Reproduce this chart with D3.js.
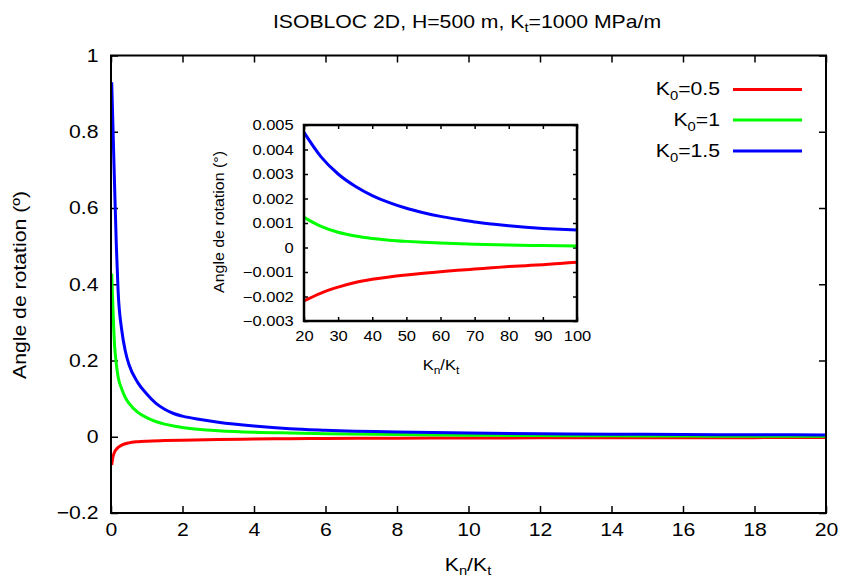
<!DOCTYPE html>
<html><head><meta charset="utf-8">
<script src="https://cdn.jsdelivr.net/npm/d3@7"></script>
<style>body{margin:0;background:#fff}svg{font-family:"Liberation Sans",Arial,sans-serif}</style>
</head><body><svg id="c" width="845" height="581"></svg>
<script>
// Main plot data (Kn/Kt, angle)
const seriesNames = ["K0=0.5","K0=1","K0=1.5"];
const seriesColors = ["#ff0000","#00ff00","#0000ff"];
const mainRed = [[0.02,-0.074],[0.05,-0.055],[0.1,-0.040],[0.15,-0.033],[0.2,-0.028],[0.3,-0.022],[0.5,-0.016],[0.75,-0.013],[1,-0.0115],[1.5,-0.0100],[2,-0.0089],[3,-0.0073],[4,-0.0060],[5,-0.0051],[6,-0.0045],[8,-0.0037],[10,-0.0032],[12,-0.0028],[14,-0.0026],[16,-0.0024],[18,-0.0023],[20,-0.0022]];
const mainGreen = [[0.02,0.428],[0.1,0.24],[0.15,0.19],[0.2,0.157],[0.3,0.125],[0.4,0.103],[0.5,0.088],[0.75,0.064],[1,0.05],[1.25,0.040],[1.5,0.033],[1.75,0.028],[2,0.024],[2.5,0.019],[3,0.016],[4,0.012],[5,0.0098],[6,0.0081],[8,0.0058],[10,0.0042],[12,0.0031],[14,0.0023],[16,0.0018],[18,0.0014],[20,0.0012]];
const mainBlue = [[0.02,0.93],[0.1,0.66],[0.15,0.50],[0.2,0.38],[0.3,0.28],[0.4,0.225],[0.5,0.19],[0.75,0.142],[1,0.112],[1.25,0.088],[1.5,0.072],[1.75,0.061],[2,0.054],[2.5,0.045],[3,0.038],[4,0.028],[5,0.021],[6,0.0172],[8,0.0125],[10,0.0098],[12,0.0080],[14,0.0067],[16,0.0058],[18,0.0052],[20,0.0047]];
// Inset data
const insetRed = [[20,-0.00218],[25,-0.00186],[30,-0.00162],[35,-0.00143],[40,-0.0013],[45,-0.0012],[50,-0.00112],[55,-0.00105],[60,-0.00099],[65,-0.00093],[70,-0.00088],[75,-0.00083],[80,-0.00078],[85,-0.00074],[90,-0.0007],[95,-0.00065],[100,-0.0006]];
const insetGreen = [[20,0.00123],[25,0.00086],[30,0.00062],[35,0.00047],[40,0.00037],[45,0.0003],[50,0.00025],[55,0.00021],[60,0.00018],[70,0.00013],[80,0.0001],[90,0.00008],[100,0.00006]];
const insetBlue = [[20,0.0047],[25,0.0037],[30,0.0030],[35,0.0025],[40,0.00212],[45,0.00183],[50,0.0016],[55,0.00142],[60,0.00127],[65,0.00115],[70,0.00104],[75,0.00096],[80,0.00089],[85,0.00083],[90,0.00078],[95,0.00074],[100,0.00071]];
const mainXTicks = [0,2,4,6,8,10,12,14,16,18,20];
const mainYTicks = [-0.2,0,0.2,0.4,0.6,0.8,1];
const insetXTicks = [20,30,40,50,60,70,80,90,100];
const insetYTicks = [-0.003,-0.002,-0.001,0,0.001,0.002,0.003,0.004,0.005];

const SX = 1.14; // horizontal glyph stretch of the reference
const svg = d3.select("#c");
const fmt = v => (v<0?"\u2212":"") + String(Math.abs(+v.toFixed(4)));

function panel(opt){
  const g = svg.append("g");
  const x = d3.scaleLinear().domain(opt.xd).range([opt.l,opt.r]);
  const y = d3.scaleLinear().domain(opt.yd).range([opt.b,opt.t]);
  const tl = opt.tick;
  const axB = d3.axisBottom(x).tickValues(opt.xt).tickSize(-tl).tickFormat(fmt).tickPadding(opt.padX);
  const axT = d3.axisTop(x).tickValues(opt.xt).tickSize(-tl).tickFormat("");
  const axL = d3.axisLeft(y).tickValues(opt.yt).tickSize(-tl).tickFormat(fmt).tickPadding(opt.padY);
  const axR = d3.axisRight(y).tickValues(opt.yt).tickSize(-tl).tickFormat("");
  const style = s => { s.select(".domain").remove(); s.selectAll("line").attr("stroke","#000").attr("stroke-width",opt.tw);
    s.selectAll("text").attr("font-size",opt.fs).attr("fill","#000").attr("font-family","Liberation Sans, Arial, sans-serif").attr("transform",`scale(${SX},1)`); };
  g.append("g").attr("transform",`translate(0,${opt.b})`).call(axB).call(style);
  g.append("g").attr("transform",`translate(0,${opt.t})`).call(axT).call(style);
  g.append("g").attr("transform",`translate(${opt.l},0)`).call(axL).call(style);
  g.append("g").attr("transform",`translate(${opt.r},0)`).call(axR).call(style);
  const line = d3.line().x(d=>x(d[0])).y(d=>y(d[1])).curve(d3.curveMonotoneX);
  opt.series.forEach((s,i)=>{
    g.append("path").datum(s).attr("d",line).attr("fill","none").attr("stroke",seriesColors[i]).attr("stroke-width",opt.lw).attr("stroke-linejoin","round");
  });
  g.append("rect").attr("x",opt.l).attr("y",opt.t).attr("width",opt.r-opt.l).attr("height",opt.b-opt.t)
    .attr("fill","none").attr("stroke","#000").attr("stroke-width",opt.fw);
  return {g,x,y};
}

panel({xd:[0,20],yd:[-0.2,1],l:111,r:826,t:55.5,b:513,xt:mainXTicks,yt:mainYTicks,tick:7,tw:1.5,fs:18.6,padX:10,padY:11,lw:3,fw:2,
  series:[mainRed,mainGreen,mainBlue]});
svg.append("rect").attr("x",200).attr("y",112).attr("width",390).attr("height",262).attr("fill","#fff");
panel({xd:[20,100],yd:[-0.003,0.005],l:304,r:577,t:125,b:321,xt:insetXTicks,yt:insetYTicks,tick:4,tw:1.5,fs:14.5,padX:10,padY:9,lw:3,fw:2.5,
  series:[insetRed,insetGreen,insetBlue]});

function ST(x,y,anchor,size,rot){
  return svg.append("text").attr("transform",`translate(${x},${y})${rot?" rotate(-90)":""} scale(${SX},1)`)
    .attr("text-anchor",anchor).attr("font-size",size).attr("fill","#000");
}

const t1 = ST(467,28,"middle",18.6);
t1.append("tspan").text("ISOBLOC 2D, H=500 m, K");
t1.append("tspan").attr("font-size",13).attr("dy",4).text("t");
t1.append("tspan").attr("dy",-4).text("=1000 MPa/m");

const xl = ST(468,571,"middle",18.6);
xl.append("tspan").text("K"); xl.append("tspan").attr("font-size",13).attr("dy",4).text("n");
xl.append("tspan").attr("dy",-4).text("/K"); xl.append("tspan").attr("font-size",13).attr("dy",4).text("t");

ST(26,285,"middle",18.6,true).text("Angle de rotation (º)");

const ixl = ST(441,370,"middle",14.5);
ixl.append("tspan").text("K"); ixl.append("tspan").attr("font-size",10.5).attr("dy",4).text("n");
ixl.append("tspan").attr("dy",-4).text("/K"); ixl.append("tspan").attr("font-size",10.5).attr("dy",4).text("t");
ST(224,222,"middle",14,true).text("Angle de rotation (°)");

const legY = [95,125.5,156.5];
seriesNames.forEach((n,i)=>{
  const parts = n.split("=");
  const t = ST(720,legY[i],"end",18.6);
  t.append("tspan").text("K"); t.append("tspan").attr("font-size",13).attr("dy",5).text("0");
  t.append("tspan").attr("dy",-5).text("="+parts[1]);
  svg.append("line").attr("x1",733).attr("x2",802).attr("y1",legY[i]-5.5).attr("y2",legY[i]-5.5).attr("stroke",seriesColors[i]).attr("stroke-width",3);
});
</script></body></html>
